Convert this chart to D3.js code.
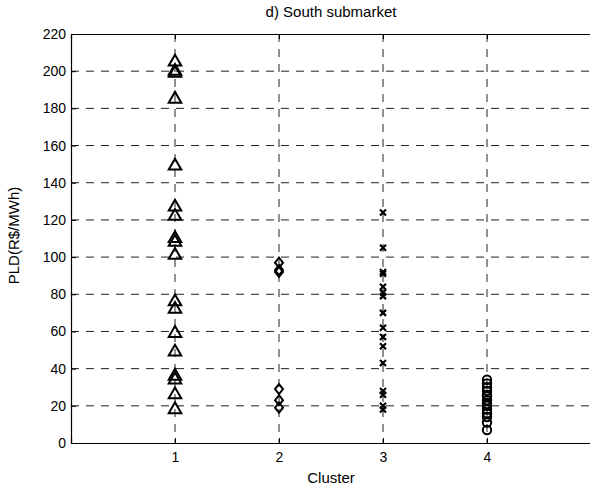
<!DOCTYPE html>
<html>
<head>
<meta charset="utf-8">
<script src="https://cdn.jsdelivr.net/npm/d3@7"></script>
<style>
  body { margin: 0; background: #fff; }
  text { font-family: "Liberation Sans", Arial, sans-serif; }
</style>
</head>
<body>
<div id="chart"></div>
<script>
// cluster values
var cluster1 = [205, 200, 199, 185, 149, 127, 122, 110, 108, 101, 76, 72, 59, 49, 36, 34, 26, 18];
var cluster2 = [97, 93, 92, 29, 23, 19];
var cluster3 = [124, 105, 92, 91, 84, 81, 79, 70, 62, 57, 52, 43, 28, 26, 20, 18];
var cluster4 = [34, 32, 30, 28, 26, 25, 23, 21, 20, 18, 16, 14, 11, 7];
var xTicks = [1, 2, 3, 4];
var yTicks = [0, 20, 40, 60, 80, 100, 120, 140, 160, 180, 200, 220];

var margin = {top: 34, right: -1, bottom: 46, left: 71},
    width = 590 - margin.left - margin.right,
    height = 489 - margin.top - margin.bottom;

var x = d3.scaleLinear().domain([0, 5]).range([0, width]);
var y = d3.scaleLinear().domain([0, 220]).range([height, 0]);

var svg = d3.select("#chart").append("svg")
    .attr("width", 590)
    .attr("height", 489)
  .append("g")
    .attr("transform", "translate(" + margin.left + "," + margin.top + ")");

// gridlines
svg.append("g").selectAll("line")
    .data(yTicks.filter(function(d) { return d > 0 && d < 220; }))
  .enter().append("line")
    .attr("x1", 0).attr("x2", width)
    .attr("y1", function(d) { return y(d); })
    .attr("y2", function(d) { return y(d); })
    .attr("stroke", "#222").attr("stroke-width", 1)
    .attr("stroke-dasharray", "8,7");

svg.append("g").selectAll("line")
    .data(xTicks)
  .enter().append("line")
    .attr("x1", function(d) { return x(d); })
    .attr("x2", function(d) { return x(d); })
    .attr("y1", 0).attr("y2", height)
    .attr("stroke", "#222").attr("stroke-width", 1)
    .attr("stroke-dasharray", "8,7");

// axes (ticks inward, like matlab)
var xAxis = svg.append("g")
    .attr("transform", "translate(0," + height + ")")
    .call(d3.axisBottom(x).tickValues(xTicks).tickSize(-5).tickPadding(9).tickFormat(d3.format("d")));
var yAxis = svg.append("g")
    .call(d3.axisLeft(y).tickValues(yTicks).tickSize(-5).tickPadding(5));
svg.append("g")
    .call(d3.axisTop(x).tickValues(xTicks).tickSize(-5).tickFormat(""));

[xAxis, yAxis].forEach(function(a) {
  a.selectAll("text").attr("font-size", 14).attr("fill", "#000")
    .attr("font-family", "'Liberation Sans', Arial, sans-serif");
});
svg.selectAll(".domain").attr("stroke", "#000").attr("stroke-width", 1.2);
svg.selectAll(".tick line").attr("stroke", "#000");

// markers
var mk = svg.append("g").attr("fill", "none").attr("stroke", "#000").attr("stroke-width", 2);

mk.selectAll(".tri").data(cluster1).enter().append("path")
    .attr("d", d3.symbol().type(d3.symbolTriangle).size(68))
    .attr("transform", function(d) { return "translate(" + x(1) + "," + y(d) + ")"; });

mk.selectAll(".dia").data(cluster2).enter().append("path")
    .attr("d", "M0,-5L4,0L0,5L-4,0Z")
    .attr("transform", function(d) { return "translate(" + x(2) + "," + y(d) + ")"; });

mk.selectAll(".crs").data(cluster3).enter().append("path")
    .attr("d", "M-3,-3L3,3M-3,3L3,-3")
    .attr("stroke-width", 2.2)
    .attr("transform", function(d) { return "translate(" + x(3) + "," + y(d) + ")"; });

mk.selectAll(".cir").data(cluster4).enter().append("circle")
    .attr("cx", x(4))
    .attr("cy", function(d) { return y(d); })
    .attr("r", 4.2);

// labels
svg.append("text")
    .attr("x", x(2.5)).attr("y", -17)
    .attr("text-anchor", "middle").attr("font-size", 15)
    .text("d) South submarket");

svg.append("text")
    .attr("x", x(2.5)).attr("y", height + 40)
    .attr("text-anchor", "middle").attr("font-size", 15)
    .text("Cluster");

svg.append("text")
    .attr("transform", "translate(-52," + (height / 2 - 3) + ") rotate(-90)")
    .attr("text-anchor", "middle").attr("font-size", 15)
    .text("PLD(R$/MWh)");
</script>
</body>
</html>
